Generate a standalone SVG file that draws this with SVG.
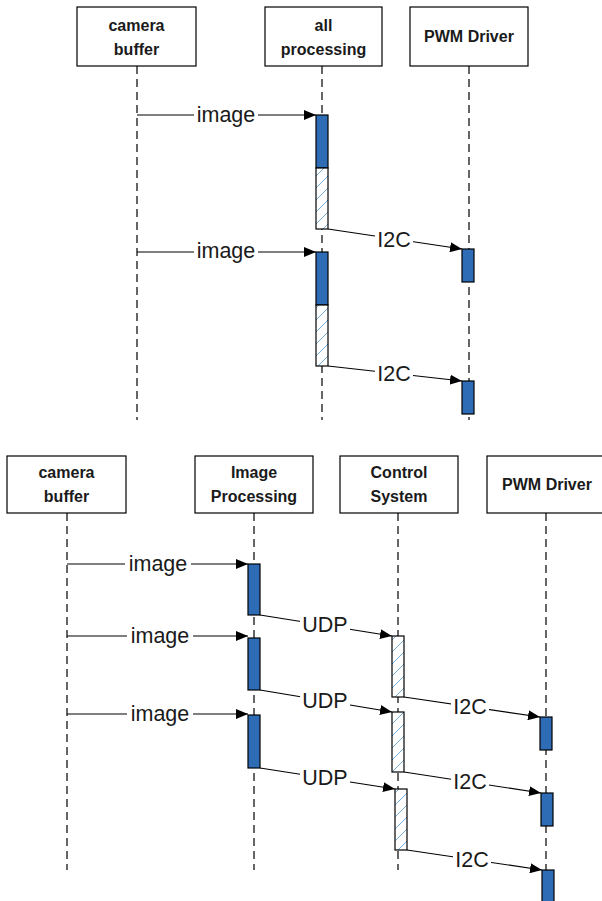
<svg xmlns="http://www.w3.org/2000/svg" width="602" height="901" viewBox="0 0 602 901">
  <style>
    .box { fill: #ffffff; stroke: #000000; stroke-width: 1.2; }
    .title { font-family: "Liberation Sans", Arial, sans-serif; font-weight: bold; font-size: 16px; fill: #1a1a1a; text-anchor: middle; }
    .life { stroke: #000000; stroke-width: 1.2; stroke-dasharray: 8 5; fill: none; }
    .msg { stroke: #000000; stroke-width: 1.2; fill: none; marker-end: url(#arrow); }
    .lbl { font-family: "Liberation Sans", Arial, sans-serif; font-size: 21.5px; fill: #1a1a1a; text-anchor: middle; dominant-baseline: central; }
    .lblbg { fill: #ffffff; }
    .act { fill: #2e6db5; stroke: #000000; stroke-width: 1.2; }
    .hatch { fill: url(#diag); stroke: #000000; stroke-width: 1.2; }
  </style>
  <defs>
    <marker id="arrow" viewBox="0 0 12 10" refX="12" refY="5" markerWidth="12" markerHeight="10" markerUnits="userSpaceOnUse" orient="auto">
      <path d="M0,0 L12,5 L0,10 Z" fill="#000000"/>
    </marker>
    <pattern id="diag" patternUnits="userSpaceOnUse" width="12" height="12">
      <rect width="12" height="12" fill="#ffffff"/>
      <path d="M0,12 L12,0 M-2,2 L2,-2 M10,14 L14,10" stroke="#5b9bd5" stroke-width="0.8"/>
    </pattern>
  </defs>

  <!-- ===== Upper diagram: single processing node ===== -->
  <g id="top-camera-buffer">
    <rect class="box" x="77" y="7" width="119" height="59"/>
    <text class="title" x="136.5" y="31">camera</text>
    <text class="title" x="136.5" y="55">buffer</text>
  </g>
  <g id="top-all-processing">
    <rect class="box" x="265" y="7" width="117" height="59"/>
    <text class="title" x="323.5" y="31">all</text>
    <text class="title" x="323.5" y="55">processing</text>
  </g>
  <g id="top-pwm-driver">
    <rect class="box" x="410" y="7" width="118" height="59"/>
    <text class="title" x="469" y="42">PWM Driver</text>
  </g>

  <g id="top-lifelines">
    <line class="life" x1="137" y1="66" x2="137" y2="420"/>
    <line class="life" x1="322" y1="66" x2="322" y2="420"/>
    <line class="life" x1="469" y1="66" x2="469" y2="420"/>
  </g>

  <g id="top-activations">
    <rect class="act" x="316" y="115" width="12" height="53"/>
    <rect class="hatch" x="316" y="168" width="12" height="61"/>
    <rect class="act" x="316" y="252" width="12" height="53"/>
    <rect class="hatch" x="316" y="305" width="12" height="61"/>
    <rect class="act" x="462" y="249" width="12" height="33"/>
    <rect class="act" x="462" y="381" width="12" height="33"/>
  </g>

  <g id="top-connectors">
    <line class="msg" x1="137" y1="115" x2="316" y2="115"/>
    <line class="msg" x1="328" y1="229" x2="462" y2="249"/>
    <line class="msg" x1="137" y1="252" x2="316" y2="252"/>
    <line class="msg" x1="328" y1="366" x2="462" y2="381"/>
    <rect class="lblbg" x="194" y="104" width="64" height="24"/>
    <text class="lbl" x="226" y="115">image</text>
    <rect class="lblbg" x="375" y="228" width="38" height="24"/>
    <text class="lbl" x="394" y="240">I2C</text>
    <rect class="lblbg" x="194" y="240" width="64" height="24"/>
    <text class="lbl" x="226" y="251">image</text>
    <rect class="lblbg" x="375" y="362" width="38" height="24"/>
    <text class="lbl" x="394" y="374">I2C</text>
  </g>

  <!-- ===== Lower diagram: split processing pipeline ===== -->
  <g id="camera-buffer">
    <rect class="box" x="7" y="456" width="119" height="57"/>
    <text class="title" x="66.5" y="478">camera</text>
    <text class="title" x="66.5" y="502">buffer</text>
  </g>
  <g id="image-processing">
    <rect class="box" x="195" y="456" width="118" height="57"/>
    <text class="title" x="254" y="478">Image</text>
    <text class="title" x="254" y="502">Processing</text>
  </g>
  <g id="control-system">
    <rect class="box" x="340" y="456" width="118" height="57"/>
    <text class="title" x="399" y="478">Control</text>
    <text class="title" x="399" y="502">System</text>
  </g>
  <g id="pwm-driver">
    <rect class="box" x="487" y="456" width="120" height="57"/>
    <text class="title" x="547" y="490">PWM Driver</text>
  </g>

  <g id="lifelines">
    <line class="life" x1="67" y1="513" x2="67" y2="870"/>
    <line class="life" x1="254" y1="513" x2="254" y2="870"/>
    <line class="life" x1="398" y1="513" x2="398" y2="870"/>
    <line class="life" x1="546" y1="513" x2="546" y2="870"/>
  </g>

  <g id="activations">
    <rect class="act" x="248" y="564" width="12" height="51"/>
    <rect class="act" x="248" y="638" width="12" height="52"/>
    <rect class="act" x="248" y="715" width="12" height="53"/>
    <rect class="hatch" x="392" y="636" width="12" height="61"/>
    <rect class="hatch" x="392" y="712" width="12" height="60"/>
    <rect class="hatch" x="395" y="789" width="12" height="61"/>
    <rect class="act" x="540" y="717" width="12" height="33"/>
    <rect class="act" x="541" y="793" width="12" height="33"/>
    <rect class="act" x="542" y="870" width="12" height="35"/>
  </g>

  <g id="connectors">
    <line class="msg" x1="67" y1="564" x2="248" y2="564"/>
    <line class="msg" x1="260" y1="615" x2="392" y2="636"/>
    <line class="msg" x1="67" y1="636" x2="248" y2="636"/>
    <line class="msg" x1="260" y1="690" x2="392" y2="712"/>
    <line class="msg" x1="404" y1="697" x2="540" y2="717"/>
    <line class="msg" x1="67" y1="714" x2="248" y2="714"/>
    <line class="msg" x1="260" y1="768" x2="395" y2="789"/>
    <line class="msg" x1="404" y1="772" x2="541" y2="793"/>
    <line class="msg" x1="407" y1="850" x2="542" y2="870"/>

    <rect class="lblbg" x="125" y="552" width="66" height="24"/>
    <text class="lbl" x="158" y="564">image</text>
    <rect class="lblbg" x="300" y="613" width="50" height="24"/>
    <text class="lbl" x="325" y="625">UDP</text>
    <rect class="lblbg" x="127" y="624" width="66" height="24"/>
    <text class="lbl" x="160" y="636">image</text>
    <rect class="lblbg" x="300" y="689" width="50" height="24"/>
    <text class="lbl" x="325" y="701">UDP</text>
    <rect class="lblbg" x="451" y="695" width="38" height="24"/>
    <text class="lbl" x="470" y="707">I2C</text>
    <rect class="lblbg" x="127" y="702" width="66" height="24"/>
    <text class="lbl" x="160" y="714">image</text>
    <rect class="lblbg" x="300" y="766" width="50" height="24"/>
    <text class="lbl" x="325" y="778">UDP</text>
    <rect class="lblbg" x="451" y="770" width="38" height="24"/>
    <text class="lbl" x="470" y="782">I2C</text>
    <rect class="lblbg" x="453" y="848" width="38" height="24"/>
    <text class="lbl" x="472" y="860">I2C</text>
  </g>
</svg>
